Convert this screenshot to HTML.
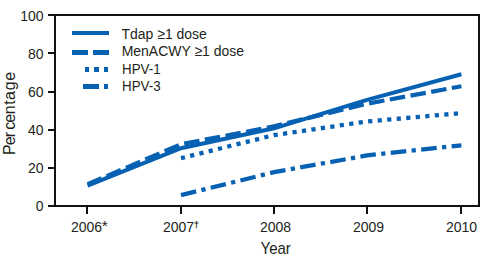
<!DOCTYPE html>
<html><head><meta charset="utf-8">
<style>
html,body{margin:0;padding:0;background:#fff;}
body{width:485px;height:259px;overflow:hidden;position:relative;}
svg{position:absolute;left:0;top:0;}
text{font-family:"Liberation Sans",sans-serif;fill:#231f20;}
</style></head><body>
<svg width="485" height="259" viewBox="0 0 485 259">
<!-- axes box -->
<g fill="#121011">
<rect x="54" y="14" width="426" height="2"/>
<rect x="54" y="205" width="426" height="2"/>
<rect x="54" y="14" width="2" height="193"/>
<rect x="478" y="14" width="2" height="193"/>
<!-- y ticks -->
<rect x="48" y="14" width="6" height="2"/>
<rect x="48" y="52" width="6" height="2"/>
<rect x="48" y="91" width="6" height="2"/>
<rect x="48" y="129" width="6" height="2"/>
<rect x="48" y="167" width="6" height="2"/>
<rect x="48" y="205" width="6" height="2"/>
<!-- x ticks -->
<rect x="86" y="207" width="2" height="7"/>
<rect x="180" y="207" width="2" height="7"/>
<rect x="273" y="207" width="2" height="7"/>
<rect x="366" y="207" width="2" height="7"/>
<rect x="460" y="207" width="2" height="7"/>
</g>
<!-- y labels -->
<g font-size="14" text-anchor="end">
<text x="43.5" y="21">100</text>
<text x="43.5" y="59.1">80</text>
<text x="43.5" y="97.2">60</text>
<text x="43.5" y="135.2">40</text>
<text x="43.5" y="173.2">20</text>
<text x="43.5" y="211">0</text>
</g>
<!-- x labels -->
<g font-size="14">
<text x="71" y="232">2006<tspan font-size="15.5" dx="-0.3" dy="-0.8">*</tspan></text>
<text x="163" y="232">2007<tspan font-size="9.5" dx="-0.3" dy="-3.8" font-weight="bold">†</tspan></text>
<text x="260" y="232">2008</text>
<text x="353" y="232">2009</text>
<text x="446" y="232">2010</text>
</g>
<text transform="translate(260.5,254) scale(0.94,1)" font-size="16">Year</text>
<text transform="translate(15,154) rotate(-90)" font-size="16" x="-0.92 8.67 16.69 24.22 31.32 39.74 49.37 53.96 63.78 73.27" y="0">Percentage</text>
<!-- legend -->
<g fill="#0661b3">
<rect x="72" y="31" width="37" height="4"/>
<rect x="72" y="50" width="16" height="5"/>
<rect x="93" y="50" width="16" height="5"/>
<rect x="85" y="67" width="4" height="5"/>
<rect x="94" y="67" width="5" height="5"/>
<rect x="104" y="67" width="4" height="5"/>
<rect x="83" y="84" width="16" height="5"/>
<rect x="104" y="84" width="4" height="5"/>
</g>
<g font-size="15">
<text transform="translate(121.5,38.7) scale(0.932,1)">Tdap ≥1 dose</text>
<text transform="translate(121.7,56.2) scale(0.932,1)">MenACWY ≥1 dose</text>
<text transform="translate(122,73.8) scale(0.89,1)">HPV-1</text>
<text transform="translate(122,90.8) scale(0.89,1)">HPV-3</text>
</g>
<!-- data -->
<g fill="none" stroke="#0661b3" stroke-linejoin="miter">
<polyline stroke-width="4.2" stroke-dasharray="15.536 5.5" stroke-dashoffset="0.363" points="87.6,184.2 181,144.3 274,126.3 367,103.7 461.4,86.3"/>
<polyline stroke-width="4.0" points="87.6,185.6 181,148.2 274,128.3 367,99.9 461.4,74.3"/>
<polyline stroke-width="4.3" stroke-dasharray="4.2 5.356" stroke-dashoffset="0.167" points="181,158.2 274,135.1 367,121.5 461.4,113.1"/>
<polyline stroke-width="4.3" stroke-dasharray="15.6 5.398 4.2 5.398" points="181,195.1 274,172.2 367,155.4 461.4,145.3"/>
</g>
</svg>
</body></html>
